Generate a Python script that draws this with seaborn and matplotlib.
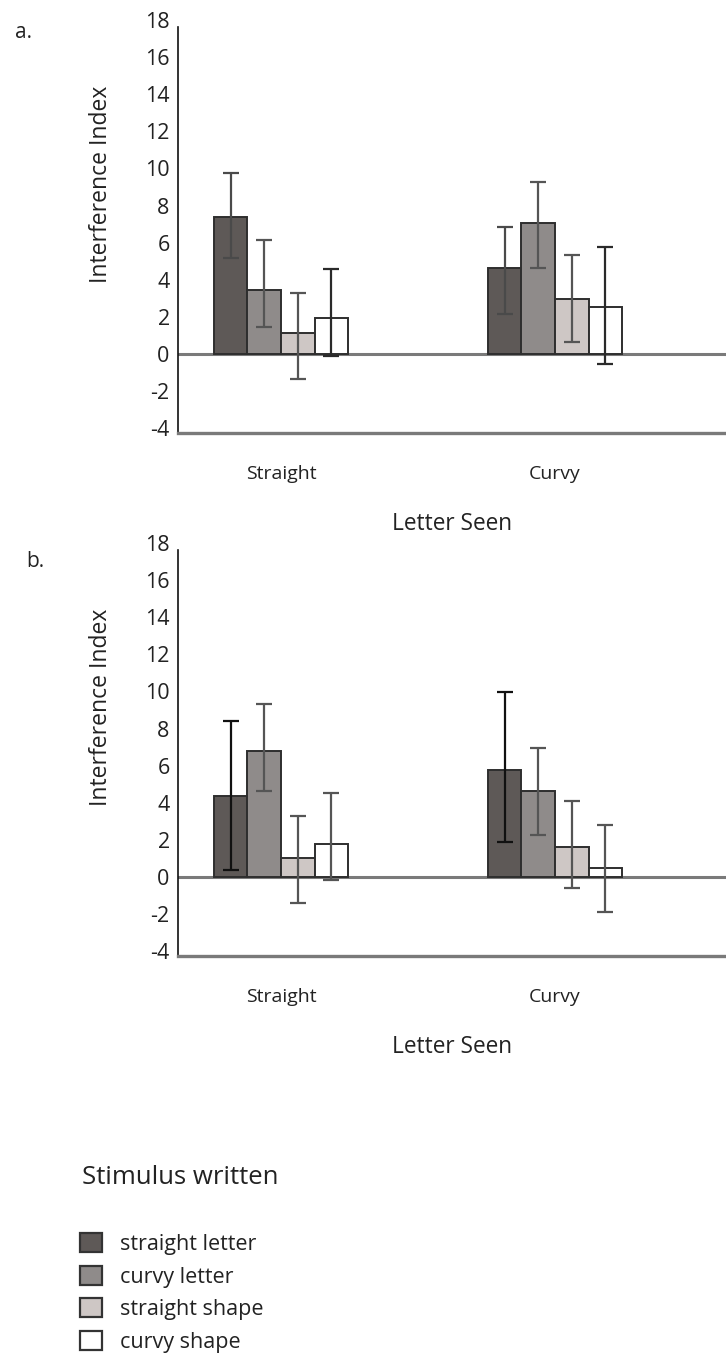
import matplotlib
matplotlib.use("Agg")
import matplotlib.pyplot as plt
import seaborn as sns
import pandas as pd
from matplotlib.patches import Patch

# ---------------- data ----------------
categories = ["Straight", "Curvy"]
stimuli = ["straight letter", "curvy letter", "straight shape", "curvy shape"]
yticks = [-4, -2, 0, 2, 4, 6, 8, 10, 12, 14, 16, 18]

# panel a: means, lower and upper error-bar ends (per stimulus)
a_mean_straight = [7.37, 3.45, 1.12, 1.92]
a_mean_curvy = [4.62, 7.05, 2.95, 2.55]
a_lo_straight = [5.16, 1.47, -1.35, -0.10]
a_lo_curvy = [2.14, 4.62, 0.67, -0.56]
a_hi_straight = [9.78, 6.15, 3.30, 4.57]
a_hi_curvy = [6.87, 9.26, 5.34, 5.76]

# panel b
b_mean_straight = [4.37, 6.79, 1.01, 1.77]
b_mean_curvy = [5.74, 4.62, 1.59, 0.47]
b_lo_straight = [0.38, 4.62, -1.39, -0.16]
b_lo_curvy = [1.91, 2.27, -0.61, -1.90]
b_hi_straight = [8.41, 9.30, 3.30, 4.55]
b_hi_curvy = [9.95, 6.93, 4.12, 2.80]

colors = ["#5e5957", "#8f8b8a", "#cec7c5", "#ffffff"]
err_colors_a = ["#4a4a4a", "#555555", "#555555", "#2a2a2a"]
err_colors_b = ["#111111", "#555555", "#555555", "#555555"]


def make_df(ms, mc, ls, lc, hs, hc):
    rows = []
    for k, s in enumerate(stimuli):
        rows.append(dict(letter="Straight", stimulus=s, mean=ms[k], lo=ls[k], hi=hs[k]))
        rows.append(dict(letter="Curvy", stimulus=s, mean=mc[k], lo=lc[k], hi=hc[k]))
    return pd.DataFrame(rows)


df_a = make_df(a_mean_straight, a_mean_curvy, a_lo_straight, a_lo_curvy, a_hi_straight, a_hi_curvy)
df_b = make_df(b_mean_straight, b_mean_curvy, b_lo_straight, b_lo_curvy, b_hi_straight, b_hi_curvy)

# ---------------- style ----------------
sns.set_theme(style="white")
plt.rcParams["font.family"] = ["Open Sans", "DejaVu Sans"]
plt.rcParams["text.color"] = "#222222"
plt.rcParams["axes.labelcolor"] = "#222222"
plt.rcParams["xtick.color"] = "#222222"
plt.rcParams["ytick.color"] = "#222222"

W, H = 726, 1355
fig = plt.figure(figsize=(W / 100, H / 100), dpi=100)

ax_left = 178 / W
ax_w = 1.0 - ax_left
ax_h = 414.6 / H
ax_a = fig.add_axes([ax_left, 1 - 432.8 / H, ax_w, ax_h])
ax_b = fig.add_axes([ax_left, 1 - 955.8 / H, ax_w, ax_h])


def draw_panel(ax, df, err_colors):
    ax.axhline(0, color="#7a7a7a", lw=2.2, zorder=0.5)
    sns.barplot(data=df, x="letter", y="mean", hue="stimulus",
                order=categories, hue_order=stimuli,
                palette=dict(zip(stimuli, colors)), saturation=1,
                width=0.49, gap=0, errorbar=None, legend=False,
                edgecolor="#2e2e2e", linewidth=1.4, ax=ax, zorder=2)
    for k, s in enumerate(stimuli):
        cont = ax.containers[k]
        sub = df[df.stimulus == s].set_index("letter").loc[categories]
        xs = [b.get_x() + b.get_width() / 2 for b in cont]
        m = sub["mean"].values
        yerr = [m - sub["lo"].values, sub["hi"].values - m]
        ax.errorbar(xs, m, yerr=yerr, fmt="none", ecolor=err_colors[k],
                    elinewidth=1.6, capsize=6, capthick=1.6, zorder=3)
    ax.set_xlim(-0.376, 1.624)
    ax.set_ylim(-4.25, 18.1)
    ax.set_yticks(yticks)
    ax.set_yticklabels([str(t) for t in yticks])
    for sp in ["top", "right"]:
        ax.spines[sp].set_visible(False)
    ax.spines["left"].set_color("#111111")
    ax.spines["left"].set_linewidth(1.2)
    ax.spines["left"].set_bounds(-4.25, 17.6)
    ax.spines["bottom"].set_color("#7a7a7a")
    ax.spines["bottom"].set_linewidth(2.4)
    ax.tick_params(axis="y", length=0, pad=6, labelsize=15.5)
    ax.tick_params(axis="x", length=0, pad=23, labelsize=14)
    ax.set_xlabel("Letter Seen", fontsize=16.3, labelpad=21)
    ax.set_ylabel("Interference Index", fontsize=16.5)
    ax.yaxis.set_label_coords(-0.119, 0.60)
    ax.set_facecolor("white")


draw_panel(ax_a, df_a, err_colors_a)
draw_panel(ax_b, df_b, err_colors_b)

fig.text(23 / W, 1 - 33 / H, "a.", fontsize=15, ha="center", va="center")
fig.text(35 / W, 1 - 562 / H, "b.", fontsize=15, ha="center", va="center")

# legend
fig.text(82 / W, 1 - 1177 / H, "Stimulus written", fontsize=18.5, ha="left", va="center")
handles = [Patch(facecolor=c, edgecolor="#333333", linewidth=1.6) for c in colors]
fig.legend(handles, stimuli, loc="upper left",
           bbox_to_anchor=(80 / W, 1 - 1233 / H), frameon=False,
           fontsize=15.5, handlelength=1.0, handleheight=1.0,
           handletextpad=0.85, labelspacing=0.49, borderpad=0, borderaxespad=0)

fig.savefig("out.png", dpi=100, facecolor="white")
